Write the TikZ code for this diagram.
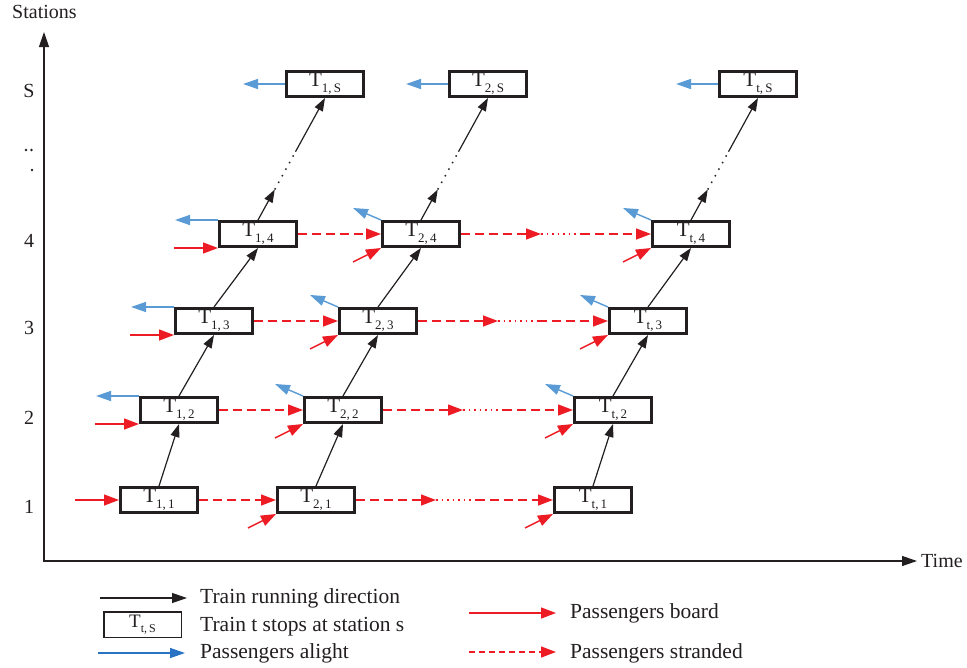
\documentclass[tikz,border=0pt]{standalone}
\usepackage{fontspec}
\setmainfont{Liberation Serif}
\usetikzlibrary{arrows.meta,calc}

\definecolor{ink}{RGB}{35,31,32}
\definecolor{boardred}{RGB}{237,28,36}
\definecolor{alightblue}{RGB}{91,155,213}
\definecolor{legendblue}{RGB}{40,115,195}

% label of a stop: T with a lowered two-part index
\newcommand{\stopname}[2]{{\fontsize{21}{21}\selectfont T}\raisebox{-6pt}{\fontsize{13}{13}\selectfont #1,\,#2}}

\begin{document}
\begin{tikzpicture}[x=1pt,y=-1pt,
  stopbox/.style={draw=ink, line width=3pt, fill=white, minimum width=77pt,
    minimum height=25pt, inner sep=0pt, text=ink},
  run/.style={ink, line width=1.2pt, -{Triangle[length=13pt,width=9pt]}},
  gap/.style={ink, line width=1.5pt, dash pattern=on 1.5pt off 6pt},
  board/.style={boardred, line width=1.4pt, -{Triangle[length=15pt,width=11pt]}},
  strand/.style={board, dash pattern=on 9pt off 5pt},
  strandgap/.style={boardred, line width=1.4pt, dash pattern=on 1.5pt off 4pt},
  alight/.style={alightblue, line width=1.4pt, -{Triangle[length=15pt,width=10pt]}},
  axis/.style={ink, line width=1.3pt,
    {Triangle[length=15pt,width=10pt]}-{Triangle[length=15pt,width=10pt]}},
  lbl/.style={text=ink, font=\fontsize{20}{24}\selectfont, inner sep=0pt},
  legtext/.style={text=ink, font=\fontsize{21.5}{24}\selectfont, inner sep=0pt, anchor=base west},
]
\useasboundingbox (0,0) rectangle (967,667);

% ---------- axes ----------
\coordinate (ytop) at (44,32);
\coordinate (origin) at (44,561);
\coordinate (xend) at (917,561);
\draw[axis] (ytop) -- (origin) -- (xend);
\node[lbl, anchor=base west] (ylab) at (12,18) {Stations};
\node[lbl, anchor=base west] (xlab) at (921,567) {Time};

% station numbers
\node[lbl, anchor=base] (stS) at (29,97) {S};
\node[lbl, anchor=base] (st4) at (29,247) {4};
\node[lbl, anchor=base] (st3) at (29,334) {3};
\node[lbl, anchor=base] (st2) at (29,424) {2};
\node[lbl, anchor=base] (st1) at (29,513) {1};
\fill[ink] (26,150) circle (1.3pt) (31.5,150) circle (1.3pt) (32,170) circle (1.3pt);

% ---------- stops ----------
\node[stopbox] (b11) at (159,500) {\stopname{1}{1}};
\node[stopbox] (b12) at (179,410) {\stopname{1}{2}};
\node[stopbox] (b13) at (214,321) {\stopname{1}{3}};
\node[stopbox] (b14) at (258,234) {\stopname{1}{4}};
\node[stopbox] (b1S) at (325,84)  {\stopname{1}{S}};

\node[stopbox] (b21) at (316,500) {\stopname{2}{1}};
\node[stopbox] (b22) at (343,410) {\stopname{2}{2}};
\node[stopbox] (b23) at (378,321) {\stopname{2}{3}};
\node[stopbox] (b24) at (421,234) {\stopname{2}{4}};
\node[stopbox] (b2S) at (488,84)  {\stopname{2}{S}};

\node[stopbox] (bt1) at (593,500) {\stopname{t}{1}};
\node[stopbox] (bt2) at (613,410) {\stopname{t}{2}};
\node[stopbox] (bt3) at (648,321) {\stopname{t}{3}};
\node[stopbox] (bt4) at (691,234) {\stopname{t}{4}};
\node[stopbox] (btS) at (758,84)  {\stopname{t}{S}};

% ---------- train runs ----------
\foreach \c in {1,2,t}{
  \draw[run] (b\c1.north) -- (b\c2.south);
  \draw[run] (b\c2.north) -- (b\c3.south);
  \draw[run] (b\c3.north) -- (b\c4.south);
  \draw[run] (b\c4.north) -- ($(b\c4.north)!0.25!(b\c S.south)$) coordinate (g\c a);
  \draw[gap] (g\c a) -- ($(b\c4.north)!0.56!(b\c S.south)$) coordinate (g\c b);
  \draw[run] (g\c b) -- (b\c S.south);
}

% ---------- stranded passengers ----------
\foreach \r in {1,2,3,4}{
  \draw[strand] (b1\r.east) -- (b2\r.west);
  \draw[strand] (b2\r.east) -- ++(80,0) coordinate (s\r a);
  \draw[strandgap] (s\r a) -- ++(40,0) coordinate (s\r b);
  \draw[strand] (s\r b) -- (bt\r.west);
}

% ---------- boarding and alighting, first train ----------
\draw[board] ($(b11.west)+(-44,0)$) -- (b11.west);
\foreach \r in {2,3,4}{
  \draw[board] ($(b1\r.south west)+(-44,0)$) -- (b1\r.south west);
  \draw[alight] (b1\r.north west) -- ++(-43,0);
}
\draw[alight] (b1S.west) -- ++(-42,0);

% ---------- boarding and alighting, later trains ----------
\foreach \c in {2,t}{
  \foreach \r in {1,2,3,4}{
    \draw[board] ($(b\c\r.south west)+(-28,14)$) -- (b\c\r.south west);
  }
  \foreach \r in {2,3,4}{
    \draw[alight] (b\c\r.north west) -- ++(-28,-12);
  }
  \draw[alight] (b\c S.west) -- ++(-42,0);
}

% ---------- legend ----------
\coordinate (l1a) at (100,598); \coordinate (l1b) at (187,598);
\draw[ink, line width=1.2pt, -{Triangle[length=15pt,width=10pt]}] (l1a) -- (l1b);
\node[legtext] (t1) at (200,603) {Train running direction};

\node[stopbox, line width=1.5pt, minimum width=77.5pt, minimum height=25.5pt] (lgbox) at (142.5,624.5)
  {{\fontsize{19}{19}\selectfont T}\raisebox{-5pt}{\fontsize{12}{12}\selectfont t,\,S}};
\node[legtext] (t2) at (200,631) {Train t stops at station s};

\coordinate (l3a) at (98,653); \coordinate (l3b) at (185,653);
\draw[legendblue, line width=1.4pt, -{Triangle[length=15pt,width=10pt]}] (l3a) -- (l3b);
\node[legtext] (t3) at (200,658) {Passengers alight};

\coordinate (l4a) at (469,613); \coordinate (l4b) at (556,613);
\draw[board] (l4a) -- (l4b);
\node[legtext] (t4) at (570,618) {Passengers board};

\coordinate (l5a) at (469,652); \coordinate (l5b) at (556,652);
\draw[board, dash pattern=on 6pt off 4pt] (l5a) -- (l5b);
\node[legtext] (t5) at (570,658) {Passengers stranded};
\end{tikzpicture}
\end{document}
